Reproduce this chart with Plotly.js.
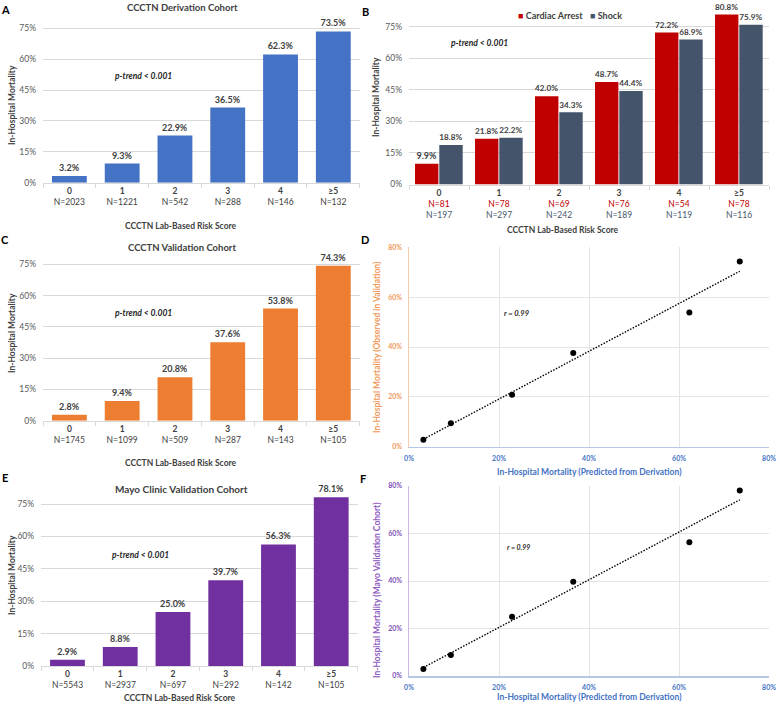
<!DOCTYPE html>
<html>
<head>
<meta charset="utf-8">
<script src="https://cdn.plot.ly/plotly-3.0.1.min.js"></script>
<style>
  html, body { margin: 0; padding: 0; background: #fff; }
  #chart { width: 780px; height: 704px; }
</style>
</head>
<body>
<div id="chart"></div>
<script>
// ---- data ----
const scoreCats = ["0", "1", "2", "3", "4", "≥5"];

const derivN = [2023, 1221, 542, 288, 146, 132];
const derivMort = [3.2, 9.3, 22.9, 36.5, 62.3, 73.5];

const arrestN = [81, 78, 69, 76, 54, 78];
const arrestMort = [9.9, 21.8, 42.0, 48.7, 72.2, 80.8];
const shockN = [197, 297, 242, 189, 119, 116];
const shockMort = [18.8, 22.2, 34.3, 44.4, 68.9, 75.9];

const validN = [1745, 1099, 509, 287, 143, 105];
const validMort = [2.8, 9.4, 20.8, 37.6, 53.8, 74.3];

const mayoN = [5543, 2937, 697, 292, 142, 105];
const mayoMort = [2.9, 8.8, 25.0, 39.7, 56.3, 78.1];

const barTicks = [0, 15, 30, 45, 60, 75];
const scatTicks = [0, 20, 40, 60, 80];

// ---- helpers ----
const W = 780, H = 704;
const FONT = "Lato, 'Open Sans', sans-serif";
const px = (x) => x / W;
const py = (y) => 1 - y / H;
const idx = scoreCats.map((c, i) => i);

// y domain from pixel rows of 0% and 75% gridlines
function barYDomain(p0, p75, top) {
  const s = (p0 - p75) / 75;
  return [py(p0), py(p0 - top * s)];
}

function linFit(xs, ys) {
  const n = xs.length;
  const mx = xs.reduce((a, b) => a + b, 0) / n;
  const my = ys.reduce((a, b) => a + b, 0) / n;
  let sxy = 0, sxx = 0;
  for (let i = 0; i < n; i++) {
    sxy += (xs[i] - mx) * (ys[i] - my);
    sxx += (xs[i] - mx) * (xs[i] - mx);
  }
  const b = sxy / sxx;
  return { b: b, a: my - b * mx };
}

function nLabels(ns) {
  return scoreCats.map((c, i) => "<b>" + c + "</b><br>N=" + ns[i]);
}

function barX(domain, labels) {
  return {
    domain: domain,
    range: [-0.5, 5.5],
    tickvals: idx,
    ticktext: labels,
    showgrid: false,
    zeroline: false,
    showline: true,
    linecolor: "#D9D9D9",
    ticks: "",
    tickfont: { size: 8.5, color: "#404040", family: FONT },
    minor: { tickvals: [-0.5, 0.5, 1.5, 2.5, 3.5, 4.5, 5.5], ticks: "outside", ticklen: 4, tickcolor: "#D9D9D9", showgrid: false },
    fixedrange: true,
  };
}

function barY(domain, top) {
  return {
    domain: domain,
    range: [0, top],
    tickvals: barTicks,
    ticktext: barTicks.map((v) => v + "%"),
    showgrid: true,
    gridcolor: "#D9D9D9",
    zeroline: false,
    showline: false,
    ticks: "",
    ticklabelstandoff: 6,
    tickfont: { size: 8.5, color: "#595959", family: FONT },
    fixedrange: true,
  };
}

function scatAxis(domain, color, lineColor) {
  return {
    domain: domain,
    range: [0, 80],
    tickvals: scatTicks,
    ticktext: scatTicks.map((v) => v + "%"),
    showgrid: true,
    gridcolor: "#E4E4E4",
    zeroline: false,
    showline: true,
    linecolor: lineColor,
    linewidth: 1.5,
    ticks: "",
    ticklabelstandoff: 4,
    tickfont: { size: 7, color: color, family: FONT, weight: "bold" },
    fixedrange: true,
  };
}

function valueText(ys) {
  return ys.map((v) => "<b>" + v.toFixed(1) + "%</b>");
}

function singleBar(ys, color, xa, ya) {
  return {
    type: "bar",
    x: idx,
    y: ys,
    width: 0.66,
    marker: { color: color },
    text: valueText(ys),
    textposition: "outside",
    textfont: { size: 9, color: "#404040", family: FONT },
    cliponaxis: false,
    xaxis: xa,
    yaxis: ya,
    showlegend: false,
    hoverinfo: "skip",
  };
}

// ---- traces ----
let traces = [];

// A
traces.push(singleBar(derivMort, "#4472C4", "x", "y"));

// B (side by side groups)
function groupBar(ys, color, offset) {
  return {
    type: "bar",
    x: idx,
    y: ys,
    width: 0.39,
    offset: offset,
    marker: { color: color },
    text: valueText(ys),
    textposition: "outside",
    textfont: { size: 9, color: "#404040", family: FONT },
    cliponaxis: false,
    xaxis: "x2",
    yaxis: "y2",
    showlegend: false,
    hoverinfo: "skip",
  };
}
traces.push(groupBar(arrestMort, "#C00000", -0.4));
traces.push(groupBar(shockMort, "#44546A", 0.005));

// C
traces.push(singleBar(validMort, "#ED7D31", "x3", "y3"));

// E
traces.push(singleBar(mayoMort, "#7030A0", "x5", "y5"));

// D and F scatter + dotted trend line
function scatterPair(xs, ys, xa, ya) {
  const f = linFit(xs, ys);
  const x0 = Math.min(...xs), x1 = Math.max(...xs);
  return [
    {
      type: "scatter",
      mode: "lines",
      x: [x0, x1],
      y: [f.a + f.b * x0, f.a + f.b * x1],
      line: { color: "#000", width: 1.4, dash: "1.5px,1.5px" },
      xaxis: xa, yaxis: ya, showlegend: false, hoverinfo: "skip",
    },
    {
      type: "scatter",
      mode: "markers",
      x: xs,
      y: ys,
      marker: { color: "#000", size: 6 },
      xaxis: xa, yaxis: ya, showlegend: false, hoverinfo: "skip", cliponaxis: false,
    },
  ];
}
traces = traces.concat(scatterPair(derivMort, validMort, "x4", "y4"));
traces = traces.concat(scatterPair(derivMort, mayoMort, "x6", "y6"));

// B tick labels with coloured N lines
const bLabels = scoreCats.map((c, i) =>
  "<b>" + c + "</b><br><span style='color:#C00000'>N=" + arrestN[i] +
  "</span><br><span style='color:#44546A'>N=" + shockN[i] + "</span>");

// ---- annotations ----
function note(text, x, y, opts) {
  return Object.assign({
    text: text, x: px(x), y: py(y), xref: "paper", yref: "paper",
    showarrow: false, xanchor: "center", yanchor: "middle",
    font: { size: 9, color: "#404040", family: FONT },
  }, opts || {});
}
const bold = (s) => "<b>" + s + "</b>";
const ptrend = "<b><i>p-trend &lt; 0.001</i></b>";
const letterFont = { size: 11, color: "#000", family: FONT };
const titleFont = { size: 9.5, color: "#404040", family: FONT };
const axFont = { size: 8.5, color: "#404040", family: FONT };
const pFont = { size: 8.5, color: "#262626", family: FONT };

const annotations = [
  note(bold("A"), 5, 10, { font: letterFont }),
  note(bold("B"), 365, 11, { font: letterFont }),
  note(bold("C"), 5, 240, { font: letterFont }),
  note(bold("D"), 365, 240, { font: letterFont }),
  note(bold("E"), 5, 477, { font: letterFont }),
  note(bold("F"), 363, 478, { font: letterFont }),

  note(bold("CCCTN Derivation Cohort"), 182, 8, { font: titleFont }),
  note(bold("CCCTN Validation Cohort"), 182, 247, { font: titleFont }),
  note(bold("Mayo Clinic Validation Cohort"), 181, 489, { font: { size: 10, color: "#404040", family: FONT } }),

  note(bold("CCCTN Lab-Based Risk Score"), 181, 226, { font: axFont }),
  note(bold("CCCTN Lab-Based Risk Score"), 563, 230, { font: axFont }),
  note(bold("CCCTN Lab-Based Risk Score"), 181, 463, { font: axFont }),
  note(bold("CCCTN Lab-Based Risk Score"), 180, 698, { font: axFont }),

  note(bold("In-Hospital Mortality"), 12, 105, { textangle: -90, font: axFont }),
  note(bold("In-Hospital Mortality"), 376, 97, { textangle: -90, font: axFont }),
  note(bold("In-Hospital Mortality"), 12, 333, { textangle: -90, font: axFont }),
  note(bold("In-Hospital Mortality"), 12, 575, { textangle: -90, font: axFont }),

  note(ptrend, 143, 76, { font: pFont }),
  note(ptrend, 479, 43, { font: pFont }),
  note(ptrend, 143, 313, { font: pFont }),
  note(ptrend, 140, 555, { font: pFont }),

  note("<b><i>r = 0.99</i></b>", 517, 313, { font: { size: 7.5, color: "#262626", family: FONT } }),
  note("<b><i>r = 0.99</i></b>", 518, 547, { font: { size: 7, color: "#262626", family: FONT } }),

  note(bold("In-Hospital Mortality (Predicted from Derivation)"), 589, 472, { font: { size: 8.5, color: "#4472C4", family: FONT } }),
  note(bold("In-Hospital Mortality (Predicted from Derivation)"), 589, 697, { font: { size: 8.5, color: "#4472C4", family: FONT } }),
  note(bold("In-Hospital Mortality (Observed in Validation)"), 377, 347, { textangle: -90, font: { size: 8.5, color: "#F19A5B", family: FONT } }),
  note(bold("In-Hospital Mortality (Mayo Validation Cohort)"), 377, 590, { textangle: -90, font: { size: 8.5, color: "#8E5BBF", family: FONT } }),

  // legend for B
  note("<span style='color:#C00000'>■</span> <b>Cardiac Arrest</b>", 516, 16, { xanchor: "left", font: { size: 9, color: "#404040", family: FONT } }),
  note("<span style='color:#44546A'>■</span> <b>Shock</b>", 588, 16, { xanchor: "left", font: { size: 9, color: "#404040", family: FONT } }),
];

// ---- layout ----
const layout = {
  width: W,
  height: H,
  margin: { l: 0, r: 0, t: 0, b: 0 },
  paper_bgcolor: "#fff",
  plot_bgcolor: "#fff",
  font: { family: FONT, color: "#404040" },
  barmode: "overlay",
  showlegend: false,

  xaxis: barX([px(43), px(359.7)], nLabels(derivN)),
  yaxis: barY(barYDomain(182.7, 28.3, 80), 80),

  xaxis2: barX([px(409), px(769)], bLabels),
  yaxis2: barY(barYDomain(184.5, 26.7, 85), 85),

  xaxis3: barX([px(43), px(359.7)], nLabels(validN)),
  yaxis3: barY(barYDomain(420.7, 264.3, 80), 80),

  xaxis4: scatAxis([px(409), px(769)], "#4472C4", "#B4C7E7"),
  yaxis4: scatAxis([py(446.7), py(247.3)], "#F19A5B", "#F8CBAD"),

  xaxis5: barX([px(41.1), px(357.6)], nLabels(mayoN)),
  yaxis5: barY(barYDomain(666, 504, 80), 80),

  xaxis6: scatAxis([px(409), px(769)], "#4472C4", "#B4C7E7"),
  yaxis6: scatAxis([py(676), py(486)], "#7F4FB5", "#CDB8E3"),

  annotations: annotations,
};

["", "2", "3", "4", "5", "6"].forEach((k) => {
  layout["xaxis" + k].anchor = "y" + k;
  layout["yaxis" + k].anchor = "x" + k;
});

Plotly.newPlot("chart", traces, layout, { staticPlot: true, displayModeBar: false });
</script>
</body>
</html>
